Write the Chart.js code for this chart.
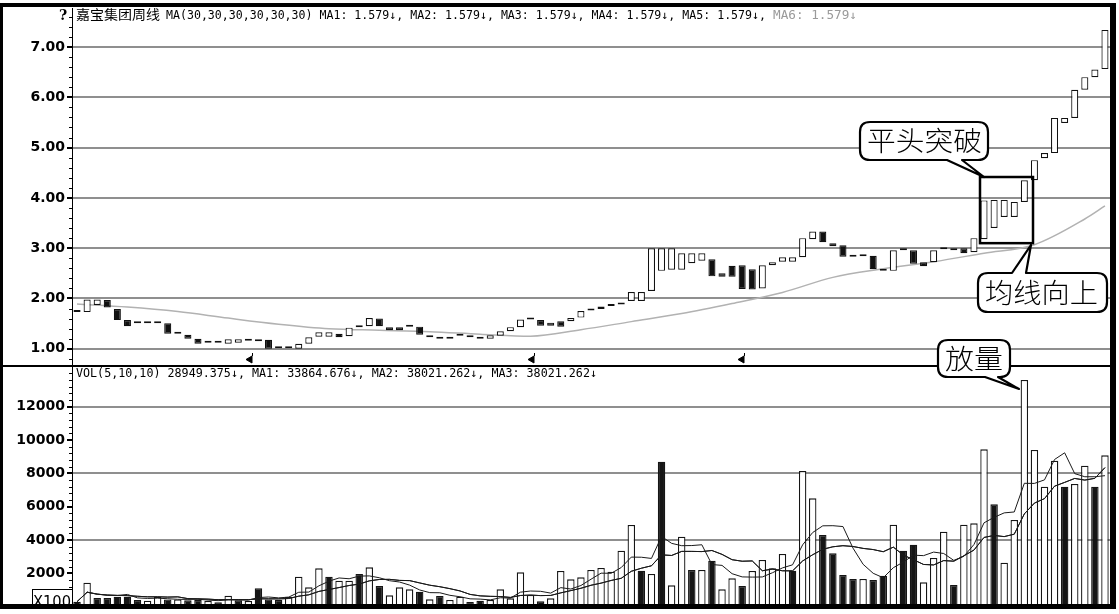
<!DOCTYPE html>
<html>
<head>
<meta charset="utf-8">
<script src="https://cdn.jsdelivr.net/npm/chart.js@4.4.0/dist/chart.umd.min.js"></script>
<style>
html,body{margin:0;padding:0;background:#fff;}
#wrap{position:relative;width:1119px;height:614px;overflow:hidden;background:#fff;}
#c1,#c2{position:absolute;left:0;}
#c1{top:0;}
#c2{top:366px;}
#ov{position:absolute;left:0;top:0;}
</style>
</head>
<body>
<div id="wrap">
<canvas id="c1" width="1119" height="367"></canvas>
<canvas id="c2" width="1119" height="248"></canvas>
<svg id="ov" width="1119" height="614" xmlns="http://www.w3.org/2000/svg">
  <!-- header texts -->
  <text x="59" y="20" font-family="DejaVu Serif" font-weight="bold" font-size="14" fill="#000">?</text>
  <text x="76" y="19" font-family="Noto Sans CJK SC" font-size="13" fill="#000" textLength="84" lengthAdjust="spacingAndGlyphs">嘉宝集团周线</text>
  <text x="166" y="19" font-family="DejaVu Sans Mono" font-size="11.5" fill="#000" textLength="600" lengthAdjust="spacingAndGlyphs">MA(30,30,30,30,30,30) MA1: 1.579↓, MA2: 1.579↓, MA3: 1.579↓, MA4: 1.579↓, MA5: 1.579↓,</text>
  <text x="773" y="19" font-family="DejaVu Sans Mono" font-size="11.5" fill="#9a9a9a" textLength="84" lengthAdjust="spacingAndGlyphs">MA6: 1.579↓</text>
  <text x="76" y="377" font-family="DejaVu Sans Mono" font-size="11.5" fill="#000" textLength="521" lengthAdjust="spacingAndGlyphs">VOL(5,10,10) 28949.375↓, MA1: 33864.676↓, MA2: 38021.262↓, MA3: 38021.262↓</text>

  <!-- small markers -->
  <g fill="#000" stroke="#000" stroke-width="1">
    <polygon points="246,359.5 252,356 252,363"/><line x1="252.5" y1="353" x2="252.5" y2="356"/>
    <polygon points="528,359.5 534,356 534,363"/><line x1="534.5" y1="353" x2="534.5" y2="356"/>
    <polygon points="738,359.5 744,356 744,363"/><line x1="744.5" y1="353" x2="744.5" y2="356"/>
  </g>

  <!-- X100 box -->
  <rect x="32.5" y="589.5" width="40" height="18" fill="#fff" stroke="#000" stroke-width="1"/>
  <text x="33" y="607" font-family="DejaVu Sans" font-size="16" fill="#000" textLength="38" lengthAdjust="spacingAndGlyphs">X100</text>

  <!-- frame -->
  <rect x="0" y="365" width="1112" height="2" fill="#000"/>
  <rect x="0" y="3" width="1116" height="4" fill="#000"/>
  <rect x="0" y="3" width="3" height="606" fill="#000"/>
  <rect x="1110" y="3" width="6" height="606" fill="#000"/>
  <rect x="0" y="604" width="1116" height="5" fill="#000"/>

  <!-- callouts -->
  <g fill="#fff" stroke="#000" stroke-width="2.2" stroke-linejoin="round">
    <path d="M870,122 H978 Q988,122 988,132 V150 Q988,160 978,160 H962 L984,177 L947,160 H870 Q860,160 860,150 V132 Q860,122 870,122 Z"/>
    <path d="M988,273 H1012 L1031,245 L1026,273 H1097 Q1107,273 1107,283 V302 Q1107,312 1097,312 H988 Q978,312 978,302 V283 Q978,273 988,273 Z"/>
    <path d="M948,340 H1000 Q1010,340 1010,350 V367 Q1010,377 1000,377 H998 L1019,389 L985,377 H948 Q938,377 938,367 V350 Q938,340 948,340 Z"/>
  </g>
  <g font-family="Noto Sans CJK SC" font-weight="300" font-size="27" fill="#000">
    <text x="867" y="151" textLength="115" lengthAdjust="spacingAndGlyphs">平头突破</text>
    <text x="985" y="303" textLength="113" lengthAdjust="spacingAndGlyphs">均线向上</text>
    <text x="945" y="369" textLength="58" lengthAdjust="spacingAndGlyphs">放量</text>
  </g>
</svg>
</div>
<script>
// ---- data (weekly) ----
const opens = [
1.73,1.73,1.87,1.97,1.79,1.57,1.51,1.51,1.51,1.51,
1.30,1.28,1.20,1.12,1.12,1.10,1.12,1.16,1.15,1.18,
1.02,1.03,1.00,1.10,1.24,1.24,1.30,1.25,1.43,1.45,
1.60,1.43,1.43,1.44,1.44,1.25,1.22,1.22,1.26,1.27,
1.20,1.20,1.26,1.35,1.43,1.58,1.57,1.52,1.55,1.55,
1.62,1.76,1.79,1.85,1.92,1.95,1.95,2.15,2.55,2.57,
2.57,2.70,2.75,2.78,2.50,2.65,2.66,2.58,2.20,2.66,
2.73,2.73,2.82,3.18,3.33,3.10,3.06,2.83,2.84,2.85,
2.55,2.55,2.96,2.96,2.72,2.72,2.98,2.96,3.00,2.92,
3.18,3.40,3.62,3.62,3.92,4.35,4.79,4.89,5.49,5.59,
6.15,6.40,6.56];
const closes = [
1.73,1.98,1.98,1.82,1.57,1.45,1.51,1.51,1.51,1.30,
1.30,1.20,1.10,1.12,1.12,1.19,1.19,1.19,1.15,1.00,
1.01,1.01,1.10,1.23,1.33,1.33,1.23,1.42,1.43,1.61,
1.45,1.37,1.37,1.47,1.28,1.23,1.20,1.20,1.26,1.23,
1.20,1.27,1.35,1.43,1.58,1.58,1.46,1.46,1.44,1.61,
1.75,1.80,1.84,1.89,1.88,2.13,2.13,3.00,3.00,3.00,
2.90,2.90,2.90,2.44,2.43,2.43,2.19,2.18,2.66,2.72,
2.82,2.82,3.20,3.33,3.12,3.04,2.83,2.83,2.84,2.58,
2.55,2.96,2.96,2.69,2.64,2.96,3.01,2.99,2.90,3.20,
3.95,3.96,3.96,3.92,4.35,4.75,4.89,5.59,5.59,6.15,
6.40,6.55,7.34];
// MA(30) at sample weeks
const ma30Weeks = [0,5,10,15,20,25,30,35,40,45,50,55,60,65,70,75,80,85,90,95,100,102];
const ma30Vals  = [1.89,1.83,1.74,1.61,1.49,1.40,1.37,1.34,1.29,1.25,1.38,1.54,1.70,1.90,2.12,2.42,2.59,2.73,2.90,3.07,3.58,3.84];
// volume (x100)
const volumes = [
300,1440,520,520,600,600,400,360,600,430,
430,380,400,340,260,660,380,340,1100,430,
400,600,1800,1160,2300,1800,1560,1560,1960,2360,
1240,680,1160,1040,900,440,640,400,600,280,
360,400,1040,500,2060,700,320,500,2140,1640,
1760,2200,2320,2100,3360,4900,2160,1960,8700,1280,
4200,2200,2200,2760,1040,1700,1240,2140,2800,2300,
3160,2160,8140,6500,4300,3200,1900,1660,1660,1600,
1860,4920,3360,3720,1460,2920,4500,1300,4920,5000,
9440,6140,2640,5200,13600,9400,7200,8760,7200,7360,
8460,7200,9080];
// 1 = hollow (up) volume bar, 0 = solid
const volUp = [
0,1,0,0,0,0,0,1,1,0,
1,0,0,1,0,1,0,1,0,0,
0,1,1,1,1,0,1,1,0,1,
0,1,1,1,0,1,0,1,1,0,
0,1,1,1,1,1,0,1,1,1,
1,1,1,1,1,1,0,1,0,1,
1,0,1,0,1,1,0,1,1,1,
1,0,1,1,0,0,0,0,1,0,
0,1,0,0,1,1,1,0,1,1,
1,0,1,1,1,1,1,1,0,1,
1,0,1];
const priceTicks = [1,2,3,4,5,6,7];
const volTicks = [2000,4000,6000,8000,10000,12000];
const volGridTicks = [4000,8000,12000];
const weeks = opens.map((_, i) => 'W' + (i + 1));

// derived
const ma30Line = weeks.map(() => null);
ma30Weeks.forEach((k, j) => { ma30Line[k] = ma30Vals[j]; });
function movingAvg(arr, n) {
  return arr.map((_, i) => {
    const s = arr.slice(Math.max(0, i - n + 1), i + 1);
    return s.reduce((a, b) => a + b, 0) / s.length;
  });
}
const volMA1 = movingAvg(volumes, 5);
const volMA2 = movingAvg(volumes, 10);
const volMA3 = movingAvg(volumes, 10);

// ---- plugins ----
const minorTicks = {
  id: 'minorTicks',
  afterDraw(chart, args, o) {
    const y = chart.scales.y, ctx = chart.ctx, a = chart.chartArea;
    ctx.save(); ctx.strokeStyle = '#000'; ctx.lineWidth = 1;
    for (let v = o.from; v <= o.to + 1e-9; v += o.step) {
      const py = Math.round(y.getPixelForValue(v)) + 0.5;
      if (py < a.top + 2 || py > a.bottom - 2) continue;
      ctx.beginPath(); ctx.moveTo(a.left - 3, py); ctx.lineTo(a.left, py); ctx.stroke();
    }
    ctx.restore();
  }
};
const boxPlugin = {
  id: 'boxPlugin',
  afterDatasetsDraw(chart, args, o) {
    if (!o || !o.box) return;
    const xs = chart.scales.x, ys = chart.scales.y, ctx = chart.ctx;
    const p0 = xs.getPixelForValue(0), step = xs.getPixelForValue(1) - p0;
    const [i0, i1, v0, v1] = o.box;
    const x0 = p0 + i0 * step, x1 = p0 + i1 * step;
    const y0 = ys.getPixelForValue(v1), y1 = ys.getPixelForValue(v0);
    ctx.save(); ctx.strokeStyle = '#000'; ctx.lineWidth = 2.5;
    ctx.strokeRect(x0, y0, x1 - x0, y1 - y0);
    ctx.restore();
  }
};

const tickFont = { family: 'DejaVu Sans', weight: 'bold', size: 14 };
function yAxisBase() {
  return {
    afterFit(s) { s.width = 72; s.paddingTop = 0; s.paddingBottom = 0; },
    ticks: { font: tickFont, color: '#000', padding: 2 },
    border: { display: true, color: '#000', width: 1 },
  };
}

// ---- price chart ----
const priceY = yAxisBase();
Object.assign(priceY, {
  min: 0.658, max: 7.775,
  afterBuildTicks(s) { s.ticks = priceTicks.map(v => ({ value: v })); },
  grid: { color: '#8f8f8f', lineWidth: 2, tickColor: '#000', tickLength: 5 }
});
priceY.ticks.callback = v => Number(v).toFixed(2);

new Chart(document.getElementById('c1'), {
  data: {
    labels: weeks,
    datasets: [
      {
        type: 'bar',
        data: opens.map((o, i) => [o, closes[i]]),
        backgroundColor: opens.map((o, i) => closes[i] > o ? '#ffffff' : '#111111'),
        borderColor: '#111',
        borderWidth: 1.2,
        borderSkipped: false,
        barPercentage: 0.7,
        categoryPercentage: 1,
        minBarLength: 2,
        order: 0
      },
      {
        type: 'line',
        data: ma30Line,
        borderColor: '#b2b2b2',
        borderWidth: 1.5,
        pointRadius: 0,
        spanGaps: true,
        cubicInterpolationMode: 'monotone',
        order: 1
      }
    ]
  },
  options: {
    responsive: false, animation: false, events: [],
    layout: { padding: { left: 0, right: 9, top: 8, bottom: 1 } },
    plugins: {
      legend: { display: false }, tooltip: { enabled: false },
      minorTicks: { from: 0.8, to: 7.6, step: 0.2 },
      boxPlugin: { box: [89.6, 94.86, 3.10, 4.415] }
    },
    scales: {
      x: { display: false, offset: true },
      y: priceY
    }
  },
  plugins: [minorTicks, boxPlugin]
});

// ---- volume chart ----
const volY = yAxisBase();
Object.assign(volY, {
  min: 0, max: 14380,
  afterBuildTicks(s) { s.ticks = volTicks.map(v => ({ value: v })); },
  grid: {
    color: c => (c.tick && volGridTicks.includes(c.tick.value)) ? '#8f8f8f' : 'rgba(0,0,0,0)',
    lineWidth: 2, tickColor: '#000', tickLength: 5
  }
});
volY.ticks.callback = v => String(v);

new Chart(document.getElementById('c2'), {
  data: {
    labels: weeks,
    datasets: [
      {
        type: 'bar',
        data: volumes,
        backgroundColor: volUp.map(u => u ? '#ffffff' : '#151515'),
        borderColor: '#151515',
        borderWidth: 1.3,
        barPercentage: 0.74,
        categoryPercentage: 1,
        order: 3
      },
      { type: 'line', data: volMA1, borderColor: '#1a1a1a', borderWidth: 1, pointRadius: 0, tension: 0, order: 0 },
      { type: 'line', data: volMA2, borderColor: '#1a1a1a', borderWidth: 1, pointRadius: 0, tension: 0, order: 1 },
      { type: 'line', data: volMA3, borderColor: '#1a1a1a', borderWidth: 1, pointRadius: 0, tension: 0, order: 2 }
    ]
  },
  options: {
    responsive: false, animation: false, events: [],
    layout: { padding: { left: 0, right: 9, top: 1, bottom: 7.3 } },
    plugins: {
      legend: { display: false }, tooltip: { enabled: false },
      minorTicks: { from: 400, to: 14000, step: 400 }
    },
    scales: {
      x: { display: false, offset: true },
      y: volY
    }
  },
  plugins: [minorTicks]
});
</script>
</body>
</html>
